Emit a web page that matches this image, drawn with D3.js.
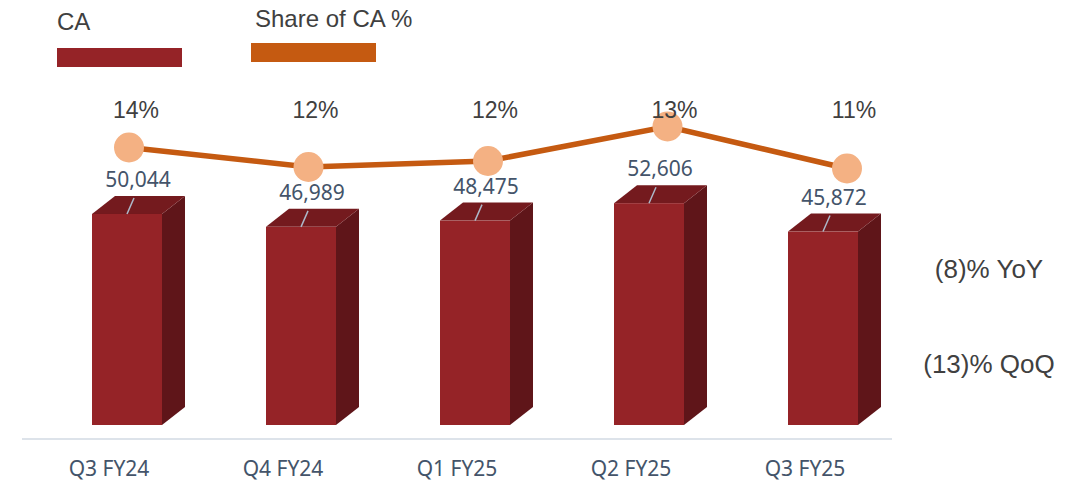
<!DOCTYPE html>
<html>
<head>
<meta charset="utf-8">
<script src="https://cdn.jsdelivr.net/npm/d3@7"></script>
<style>
  body { margin: 0; background: #ffffff; }
</style>
</head>
<body>
<div id="canvas"></div>
<script>
"use strict"

/* Data */
let quarters = ["Q3 FY24", "Q4 FY24", "Q1 FY25", "Q2 FY25", "Q3 FY25"];
let caValues = [50044, 46989, 48475, 52606, 45872];
let shareValues = [13.5, 12.2, 12.6, 14.9, 12.1]; // plotted level of the line
let shareLabels = ["14%", "12%", "12%", "13%", "11%"];
let notes = ["(8)% YoY", "(13)% QoQ"];

/* Drawing dimensions */
let svgWidth = 1084;
let svgHeight = 484;
let baseY = 425;     // bottom of the bar fronts
let axisY = 439;     // grey base line
let barWidth = 70;
let depthX = 23, depthY = 18; // 3D extrusion

let svg = d3.select("#canvas")
    .append("svg")
    .attr("width", svgWidth)
    .attr("height", svgHeight)
    .style("font-family", "'Liberation Sans', Arial, sans-serif");

/* Scales */
let xScale = d3.scaleBand()
    .domain(quarters)
    .range([22, 892]);

let barShift = 18; // bar front sits a bit right of the category centre
function barCenter(q) {
    return xScale(q) + xScale.bandwidth() / 2 + barShift;
}

let yScale = d3.scaleLinear()
    .domain([0, 60000])
    .range([baseY, 172]);

let xLine = d3.scaleLinear()
    .domain([0, quarters.length - 1])
    .range([129, 847]);

let yShare = d3.scaleLinear()
    .domain([10, 16])
    .range([200, 110]);

/* Legend */
svg.append("text")
    .attr("x", 57)
    .attr("y", 30)
    .attr("fill", "#404040")
    .style("font-size", "24px")
    .text("CA");
svg.append("rect")
    .attr("x", 57).attr("y", 48)
    .attr("width", 125).attr("height", 19)
    .attr("fill", "#952327");

svg.append("text")
    .attr("x", 255)
    .attr("y", 27)
    .attr("fill", "#404040")
    .style("font-size", "24px")
    .text("Share of CA %");
svg.append("rect")
    .attr("x", 251).attr("y", 43)
    .attr("width", 125).attr("height", 19)
    .attr("fill", "#c55a11");

/* Base line */
svg.append("line")
    .attr("x1", 22).attr("x2", 892)
    .attr("y1", axisY).attr("y2", axisY)
    .attr("stroke", "#dde3ea")
    .attr("stroke-width", 2);

/* 3D bars */
let bars = svg.selectAll("g.bar")
    .data(caValues)
    .join("g")
    .attr("class", "bar");

bars.append("polygon") // side
    .attr("fill", "#5f1519")
    .attr("points", function (d, i) {
        let x1 = barCenter(quarters[i]) + barWidth / 2;
        let yt = yScale(d);
        return [[x1, yt], [x1 + depthX, yt - depthY], [x1 + depthX, baseY - depthY], [x1, baseY]].join(" ");
    });

bars.append("polygon") // top
    .attr("fill", "#741a1e")
    .attr("points", function (d, i) {
        let x0 = barCenter(quarters[i]) - barWidth / 2;
        let x1 = x0 + barWidth;
        let yt = yScale(d);
        return [[x0, yt], [x0 + depthX, yt - depthY], [x1 + depthX, yt - depthY], [x1, yt]].join(" ");
    });

bars.append("rect") // front
    .attr("fill", "#952327")
    .attr("x", function (d, i) { return barCenter(quarters[i]) - barWidth / 2; })
    .attr("y", function (d) { return yScale(d); })
    .attr("width", barWidth)
    .attr("height", function (d) { return baseY - yScale(d); });

/* Value labels with leader lines */
bars.append("line")
    .attr("stroke", "#adb9ca")
    .attr("stroke-width", 1.5)
    .attr("x1", function (d, i) { return barCenter(quarters[i]); })
    .attr("y1", function (d) { return yScale(d); })
    .attr("x2", function (d, i) { return barCenter(quarters[i]) + 7; })
    .attr("y2", function (d) { return yScale(d) - 16; });

bars.append("text")
    .attr("x", function (d, i) { return barCenter(quarters[i]) + 11; })
    .attr("y", function (d) { return yScale(d) - 27; })
    .attr("text-anchor", "middle")
    .attr("fill", "#44546a")
    .style("font-family", "'Noto Sans', sans-serif")
    .style("font-size", "21px")
    .text(function (d) { return d3.format(",")(d); });

/* Share line */
let line = d3.line()
    .x(function (d, i) { return xLine(i); })
    .y(function (d) { return yShare(d); });

svg.append("path")
    .datum(shareValues)
    .attr("fill", "none")
    .attr("stroke", "#c55a11")
    .attr("stroke-width", 5.5)
    .attr("d", line);

svg.selectAll("circle.dot")
    .data(shareValues)
    .join("circle")
    .attr("class", "dot")
    .attr("cx", function (d, i) { return xLine(i); })
    .attr("cy", function (d) { return yShare(d); })
    .attr("r", 15)
    .attr("fill", "#f4b183");

svg.selectAll("text.share")
    .data(shareLabels)
    .join("text")
    .attr("class", "share")
    .attr("x", function (d, i) { return xLine(i) + 7; })
    .attr("y", 118)
    .attr("text-anchor", "middle")
    .attr("fill", "#404040")
    .style("font-size", "23px")
    .text(function (d) { return d; });

/* Category labels */
svg.selectAll("text.cat")
    .data(quarters)
    .join("text")
    .attr("class", "cat")
    .attr("x", function (d) { return xScale(d) + xScale.bandwidth() / 2; })
    .attr("y", 476)
    .attr("text-anchor", "middle")
    .attr("fill", "#44546a")
    .style("font-family", "'Noto Sans', sans-serif")
    .style("font-size", "21px")
    .text(function (d) { return d; });

/* Growth notes on the right */
svg.selectAll("text.note")
    .data(notes)
    .join("text")
    .attr("class", "note")
    .attr("x", 989)
    .attr("y", function (d, i) { return 278 + i * 95; })
    .attr("text-anchor", "middle")
    .attr("fill", "#404040")
    .style("font-size", "26px")
    .text(function (d) { return d; });
</script>
</body>
</html>
